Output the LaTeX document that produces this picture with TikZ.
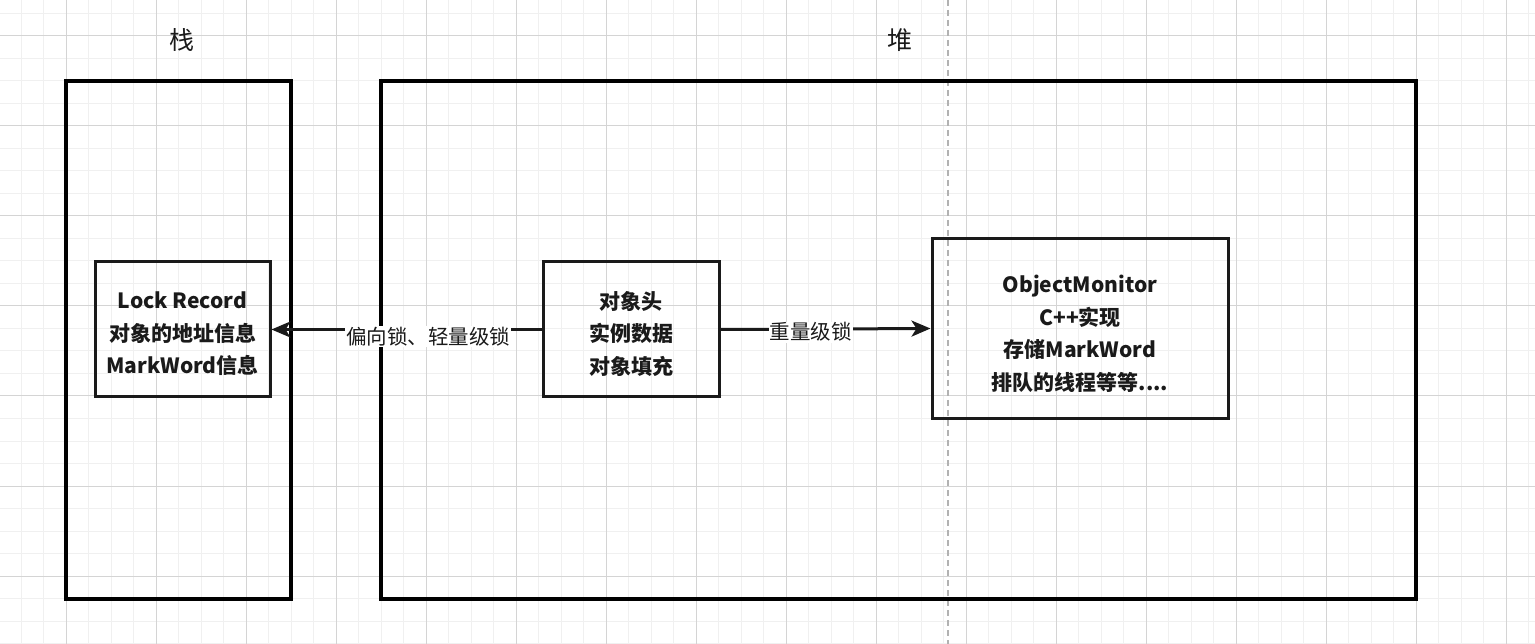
\documentclass[tikz,border=0pt]{standalone}
\usepackage{fontspec}
\setmainfont{Noto Sans CJK SC}
\usetikzlibrary{arrows.meta}
\definecolor{ink}{HTML}{1A1A1A}
\definecolor{gmajor}{HTML}{D4D4D4}
\definecolor{gminor}{HTML}{F0F0F0}
\tikzset{
  x=1pt, y=-1pt,
  region/.style={draw=black, line width=3.2pt, minimum width=#1, inner sep=0pt},
  frame/.style={draw=ink, line width=3pt, inner sep=0pt},
  boxtext/.style={align=center, inner sep=0pt,
    font=\fontsize{21}{32.5}\selectfont\bfseries, text=ink},
  title/.style={font=\fontsize{25}{30}\selectfont, text=ink},
  conn/.style={draw=ink, line width=3pt, -{Stealth[length=19pt,width=16pt,inset=5pt]}},
  edgelabel/.style={fill=white, inner sep=1pt, font=\fontsize{20.5}{24}\selectfont, text=ink}
}
\begin{document}
\begin{tikzpicture}
\useasboundingbox (0,0) rectangle (1535,644);
\fill[white] (0,0) rectangle (1535,644);
% grid
\foreach \i in {0,...,69} {
  \draw[gminor, line width=1pt] ({-1.5+22.5*\i},0) -- ({-1.5+22.5*\i},644);
}
\foreach \i in {0,...,29} {
  \draw[gminor, line width=1pt] (0,{-9+22.5*\i}) -- (1535,{-9+22.5*\i});
}
\foreach \i in {0,...,17} {
  \draw[gmajor, line width=1pt] ({66+90*\i},0) -- ({66+90*\i},644);
}
\foreach \i in {0,...,7} {
  \draw[gmajor, line width=1pt] (0,{36+90*\i}) -- (1535,{36+90*\i});
}
\coordinate (pgtop) at (948,0);
\coordinate (pgbot) at (948,644);
\draw[gray!60, line width=1.2pt, dash pattern=on 6pt off 4pt] (pgtop) -- (pgbot);

% titles
\node[title] (stacklbl) at (182,40) {栈};
\node[title] (heaplbl) at (900,40) {堆};

% regions
\node[region=225pt, minimum height=518pt] (stack) at (178.5,340) {};
\node[region=1035pt, minimum height=518pt] (heap) at (898.5,340) {};

% boxes
\node[frame, minimum width=175pt, minimum height=135pt] (lock) at (182.5,329.5) {};
\node[boxtext] (locktxt) at (182.5,334) {Lock Record\\对象的地址信息\\MarkWord信息};
\node[frame, minimum width=176pt, minimum height=135pt] (obj) at (631,329.5) {};
\node[boxtext] (objtxt) at (631,334) {对象头\\实例数据\\对象填充};
\node[frame, minimum width=296pt, minimum height=179pt] (mon) at (1080,328.5) {};
\node[boxtext] (montxt) at (1080,334) {ObjectMonitor\\C++实现\\存储MarkWord\\排队的线程等等....};

% connectors
\draw[conn] (obj.west) -- node[edgelabel, pos=0.42, yshift=-7pt] (lbl1) {偏向锁、轻量级锁} (lock.east);
\draw[conn] (obj.east) -- node[edgelabel, pos=0.43, yshift=-3pt] (lbl2) {重量级锁} (mon.west);
\end{tikzpicture}
\end{document}
